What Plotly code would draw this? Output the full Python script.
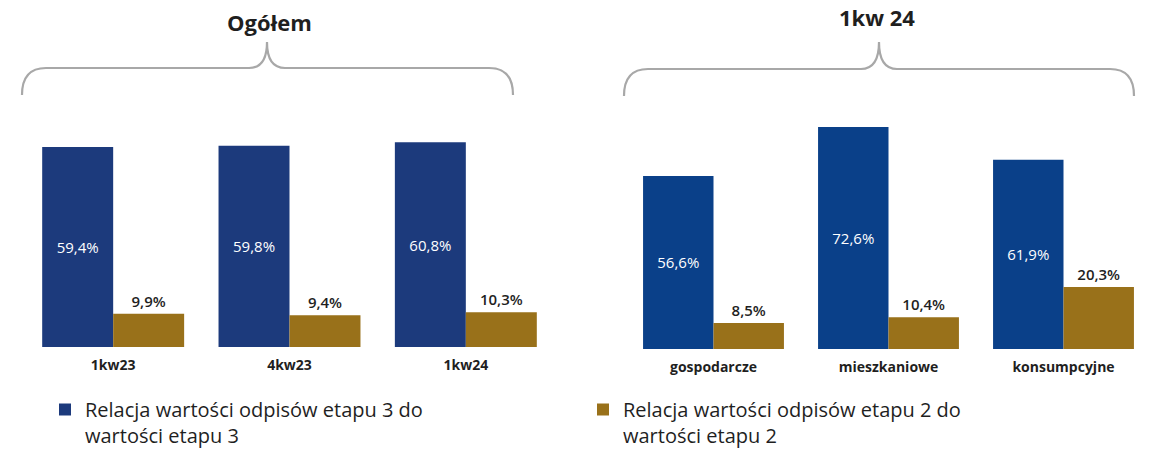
import plotly.graph_objects as go

W, H = 1151, 450

# ---- data ----
okresy = ["1kw23", "4kw23", "1kw24"]
etap3_ogolem = [59.4, 59.8, 60.8]
etap2_ogolem = [9.9, 9.4, 10.3]

segmenty = ["gospodarcze", "mieszkaniowe", "konsumpcyjne"]
etap3_1kw24 = [56.6, 72.6, 61.9]
etap2_1kw24 = [8.5, 10.4, 20.3]

tytuly = ["Ogółem", "1kw 24"]
legenda = [
    "Relacja wartości odpisów etapu 3 do<br>wartości etapu 3",
    "Relacja wartości odpisów etapu 2 do<br>wartości etapu 2",
]

# ---- style ----
FONT = "Open Sans"
BLUE_L = "#1C3A7C"
BLUE_R = "#0A4089"
GOLD = "#99711A"
TXT = "#1f1f1f"
BRACE = "#A8A8A8"


def px(x):
    return x / W


def py(y):
    return 1 - y / H


fig = go.Figure()

common_blue = dict(
    texttemplate="%{y:.1f}%",
    textposition="inside",
    insidetextanchor="middle",
    textangle=0,
    constraintext="none",
    textfont=dict(color="white", size=15, family=FONT, weight=500),
)
common_gold = dict(
    texttemplate="%{y:.1f}%",
    textposition="outside",
    textangle=0,
    constraintext="none",
    cliponaxis=False,
    textfont=dict(color=TXT, size=15, family=FONT, weight=600),
)

fig.add_trace(go.Bar(x=okresy, y=etap3_ogolem, name=legenda[0], marker_color=BLUE_L,
                     marker_line_width=0, xaxis="x", yaxis="y", legendgroup="e3",
                     **common_blue))
fig.add_trace(go.Bar(x=okresy, y=etap2_ogolem, name=legenda[1], marker_color=GOLD,
                     marker_line_width=0, xaxis="x", yaxis="y", legendgroup="e2",
                     **common_gold))
fig.add_trace(go.Bar(x=segmenty, y=etap3_1kw24, name=legenda[0], marker_color=BLUE_R,
                     marker_line_width=0, xaxis="x2", yaxis="y2", legendgroup="e3",
                     showlegend=False, **common_blue))
fig.add_trace(go.Bar(x=segmenty, y=etap2_1kw24, name=legenda[1], marker_color=GOLD,
                     marker_line_width=0, xaxis="x2", yaxis="y2", legendgroup="e2",
                     showlegend=False, **common_gold))

# ---- braces ----
def brace(x0, x1, tip, yh, ytip, yend, r=24):
    pts = [
        f"M {px(x0)},{py(yend)}",
        f"Q {px(x0)},{py(yh)} {px(x0 + r)},{py(yh)}",
        f"L {px(tip - 18)},{py(yh)}",
        f"Q {px(tip)},{py(yh)} {px(tip)},{py(ytip)}",
        f"Q {px(tip)},{py(yh)} {px(tip + 18)},{py(yh)}",
        f"L {px(x1 - r)},{py(yh)}",
        f"Q {px(x1)},{py(yh)} {px(x1)},{py(yend)}",
    ]
    return dict(type="path", xref="paper", yref="paper", path=" ".join(pts),
                line=dict(color=BRACE, width=2.2))


fig.update_layout(shapes=[
    brace(22, 513, 267, 68, 42, 95),
    brace(624, 1134, 879, 69, 42, 96),
])

fig.update_layout(annotations=[
    dict(text=tytuly[0], x=px(269), y=py(22), xref="paper", yref="paper",
         showarrow=False, xanchor="center", yanchor="middle",
         font=dict(family=FONT, size=22, color=TXT, weight="bold")),
    dict(text=tytuly[1], x=px(877), y=py(17), xref="paper", yref="paper",
         showarrow=False, xanchor="center", yanchor="middle",
         font=dict(family=FONT, size=22, color=TXT, weight="bold")),
])

axis_x = dict(type="category", range=[-0.5, 2.5], showgrid=False, zeroline=False,
              showline=False, ticks="", fixedrange=True, ticklabelstandoff=8,
              tickfont=dict(family=FONT, size=14, color=TXT, weight="bold"))
axis_y = dict(visible=False, showgrid=False, zeroline=False, fixedrange=True)

fig.update_layout(
    width=W, height=H,
    margin=dict(l=0, r=0, t=0, b=0, autoexpand=False),
    paper_bgcolor="white", plot_bgcolor="white",
    font=dict(family=FONT, color=TXT),
    separators=", ",
    barmode="group", bargap=0.195, bargroupgap=0,
    xaxis=dict(domain=[px(25), px(554)], anchor="y", **axis_x),
    yaxis=dict(domain=[py(347), py(100)], range=[0, 247 / 3.367], anchor="x", **axis_y),
    xaxis2=dict(domain=[px(626), 1.0], anchor="y2", **axis_x),
    yaxis2=dict(domain=[py(349), py(100)], range=[0, 249 / 3.057], anchor="x2", **axis_y),
    legend=dict(orientation="h", x=px(45), y=py(390), xanchor="left", yanchor="top",
                entrywidth=493, entrywidthmode="pixels", valign="top",
                traceorder="normal", bgcolor="rgba(0,0,0,0)",
                font=dict(family=FONT, size=20, color=TXT),
                itemclick=False, itemdoubleclick=False),
    showlegend=True,
)

fig.write_html(
    "out.html",
    config={"displayModeBar": False},
    post_script="document.body.style.margin='0';document.body.style.overflow='hidden';",
)
